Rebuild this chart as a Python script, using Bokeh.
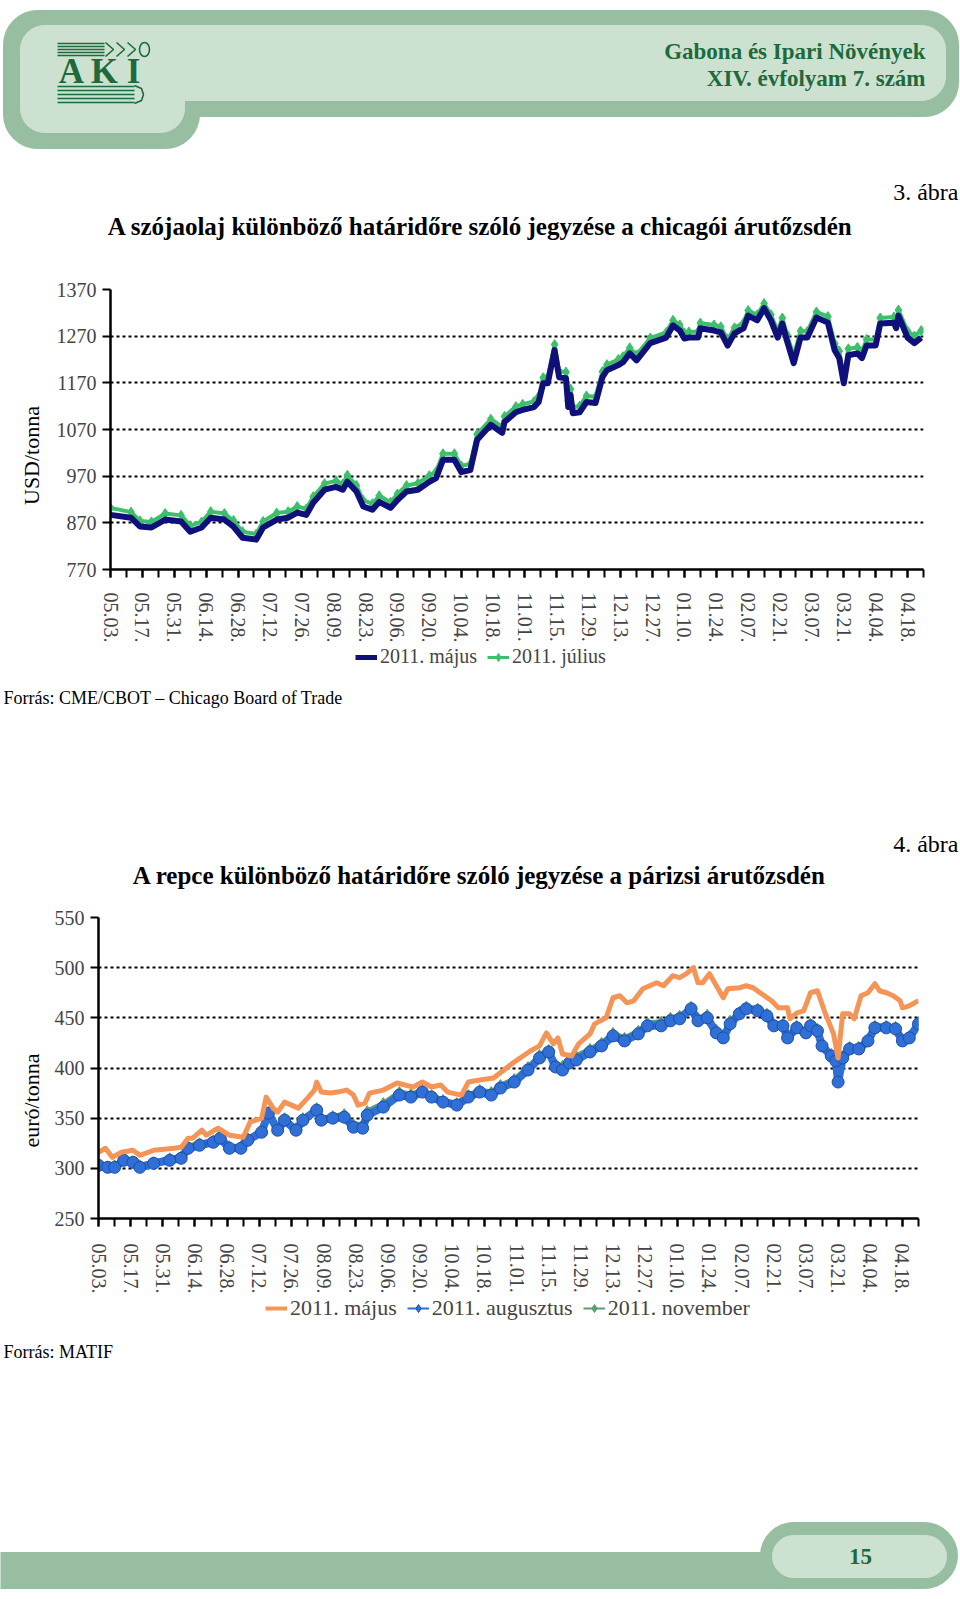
import math
from bokeh.plotting import figure
from bokeh.layouts import column, row
from bokeh.models import Range1d, FixedTicker, Legend, LegendItem, CustomJSTickFormatter
from bokeh.core.properties import value
from bokeh.embed import file_html
from bokeh.resources import INLINE

SERIF = "Liberation Serif"
W = 960
LW = 45  # width of the y-axis title strip

# ---------------- data ----------------
tick_labels = ["05.03.", "05.17.", "05.31.", "06.14.", "06.28.", "07.12.", "07.26.", "08.09.",
               "08.23.", "09.06.", "09.20.", "10.04.", "10.18.", "11.01.", "11.15.", "11.29.",
               "12.13.", "12.27.", "01.10.", "01.24.", "02.07.", "02.21.", "03.07.", "03.21.",
               "04.04.", "04.18."]

# chart 1 (days since 2010-05-03), USD/tonna
days1 = [0, 9, 13, 18, 24, 31, 35, 40, 44, 50,
         54, 58, 64, 67, 73, 78, 82, 86, 89, 94,
         99, 102, 104, 108, 111, 115, 118, 123, 126, 130,
         135, 140, 143, 146, 151, 154, 158, 161,
         167, 172, 173, 178, 181, 186, 188, 190, 192, 195,
         197, 200, 201, 202, 203, 206, 209, 213, 216, 218,
         223, 225, 228, 231, 237, 244, 247, 250, 252, 254,
         258, 259, 265, 268, 271, 274, 278, 280, 284, 287,
         290, 293, 295, 297, 300, 303, 306, 310, 315, 318,
         320, 322, 324, 328, 330, 332, 336, 338, 344, 345,
         346, 350, 353, 356]
majus1 = [887, 881, 862, 860, 877, 873, 851, 860, 881, 877,
          862, 838, 834, 860, 877, 881, 892, 887, 913, 941,
          947, 941, 958, 937, 905, 898, 915, 902, 919, 937,
          941, 958, 966, 1005, 1005, 979, 983, 1048,
          1080, 1063, 1086, 1107, 1112, 1118, 1129, 1169, 1169, 1240,
          1182, 1180, 1118, 1144, 1105, 1107, 1129, 1127, 1182, 1197,
          1208, 1214, 1233, 1218, 1255, 1267, 1293, 1282, 1265, 1267,
          1267, 1287, 1282, 1278, 1250, 1276, 1287, 1314, 1304, 1330,
          1304, 1267, 1297, 1261, 1212, 1267, 1267, 1310, 1299, 1240,
          1223, 1169, 1229, 1233, 1223, 1250, 1250, 1297, 1299, 1287,
          1314, 1267, 1255, 1267]
julius1 = [902, 893, 874, 872, 890, 886, 864, 872, 894, 890,
           875, 851, 846, 873, 891, 894, 905, 900, 926, 954,
           960, 953, 972, 950, 918, 911, 928, 914, 932, 950,
           955, 971, 980, 1018, 1018, 992, 996, 1060,
           1092, 1076, 1098, 1119, 1124, 1130, 1141, 1181, 1182, 1252,
           1195, 1193, 1131, 1157, 1118, 1120, 1142, 1140, 1194, 1209,
           1220, 1226, 1245, 1230, 1266, 1278, 1304, 1294, 1277, 1279,
           1280, 1298, 1294, 1290, 1263, 1288, 1299, 1325, 1316, 1340,
           1316, 1280, 1309, 1274, 1228, 1281, 1280, 1322, 1312, 1254,
           1238, 1182, 1243, 1246, 1237, 1263, 1263, 1309, 1311, 1300,
           1326, 1281, 1270, 1282]

# chart 2, euró/tonna
days2_maj = [0, 3, 6, 10, 15, 18, 24, 33, 36, 39,
             41, 45, 47, 52, 57, 63, 66, 71, 73, 76,
             78, 81, 87, 91, 94, 95, 97, 101, 104, 108,
             111, 113, 116, 118, 124, 130, 137, 141, 145, 149,
             152, 158, 161, 166, 172, 181, 188, 192, 195, 198,
             200, 202, 206, 209, 214, 216, 221, 224, 227, 230,
             233, 237, 243, 246, 250, 253, 256, 259, 261, 263,
             266, 269, 272, 274, 279, 282, 285, 288, 293, 296,
             300, 301, 304, 307, 310, 313, 316, 320, 322, 324,
             327, 329, 332, 335, 338, 340, 343, 346, 349, 350,
             353, 357]
majus2 = [316, 320, 311, 316, 318, 313, 318, 320, 321, 330,
          330, 338, 333, 340, 333, 331, 346, 350, 371, 360,
          356, 366, 360, 370, 378, 386, 376, 375, 376, 378,
          373, 363, 365, 375, 378, 385, 381, 386, 381, 383,
          376, 373, 386, 388, 390, 406, 417, 422, 435, 424,
          430, 414, 412, 424, 434, 444, 450, 470, 472, 465,
          467, 479, 485, 482, 492, 490, 494, 500, 485, 485,
          494, 482, 470, 479, 480, 482, 480, 475, 467, 460,
          460, 449, 455, 457, 475, 477, 457, 434, 410, 454,
          454, 449, 472, 475, 484, 477, 475, 472, 467, 460,
          462, 467]
days2 = [0, 4, 7, 11, 15, 18, 24, 31, 36, 39,
         44, 50, 53, 57, 62, 65, 71, 74, 78, 81,
         86, 89, 95, 97, 102, 107, 111, 115, 117, 124,
         131, 136, 141, 145, 150, 156, 161, 166, 171, 175,
         181, 187, 192, 196, 199, 202, 205, 208, 214, 219,
         224, 229, 235, 239, 245, 249, 253, 258, 261, 265,
         269, 272, 275, 279, 282, 287, 291, 294, 298, 300,
         304, 308, 310, 313, 315, 319, 321, 322, 324, 327,
         331, 335, 338, 343, 347, 350, 353, 357]
augusztus2 = [303, 301, 301, 308, 306, 301, 305, 308, 310, 320,
              323, 326, 330, 320, 320, 328, 336, 355, 338, 348,
              338, 348, 358, 348, 350, 351, 341, 340, 353, 361,
              373, 371, 376, 371, 366, 363, 371, 376, 373, 380,
              386, 398, 410, 416, 401, 398, 405, 408, 416, 422,
              432, 427, 434, 442, 442, 447, 449, 459, 447, 450,
              435, 430, 444, 454, 459, 457, 452, 442, 442, 430,
              440, 435, 442, 437, 422, 412, 407, 386, 410, 419,
              419, 427, 440, 440, 439, 427, 430, 444]
november2 = [305, 303, 304, 310, 308, 304, 307, 311, 313, 323,
             326, 329, 333, 323, 323, 331, 339, 357, 342, 351,
             341, 351, 361, 351, 353, 355, 345, 345, 358, 366,
             377, 375, 379, 374, 369, 366, 374, 379, 377, 384,
             390, 402, 414, 419, 405, 403, 410, 413, 420, 426,
             436, 431, 438, 446, 447, 451, 453, 462, 451, 454,
             439, 434, 448, 457, 462, 460, 455, 445, 445, 433,
             443, 438, 445, 440, 425, 415, 410, 389, 413, 422,
             422, 430, 443, 443, 442, 430, 433, 447]

# ---------------- colours ----------------
OUTER = "#97BEA0"
INNER = "#CDE1D1"
DKGREEN = "#1D6A3C"
NAVY = "#10107A"
GREEN = "#3CC06A"
ORANGE = "#F59457"
BLUE = "#2F6FD6"
DKBLUE = "#1C4FA8"
NOVGREEN = "#5A9E72"
NAN = [float("nan")]


def deco(top, bottom, x0=0, x1=W):
    p = figure(width=x1 - x0, height=bottom - top, x_range=Range1d(x0, x1), y_range=Range1d(bottom, top),
               output_backend="svg", toolbar_location=None, min_border=0, frame_align=False,
               x_axis_location=None, y_axis_location=None)
    p.grid.visible = False
    p.outline_line_color = None
    return p


def txt(p, x, y, s, size, bold=False, align="left", color="black", angle=0.0):
    p.text(x=[x], y=[y], text=[s], text_font=value(SERIF), text_font_size=f"{size}px",
           text_font_style="bold" if bold else "normal", text_align=align,
           text_baseline="middle", text_color=color, angle=angle)


def legend(items, fig_h, left, center_y, fig_top, size):
    return Legend(items=items, location=(left, fig_h - (center_y - fig_top) - 11),
                  orientation="horizontal", label_text_font=SERIF, label_text_font_size=f"{size}px",
                  border_line_color=None, background_fill_alpha=0, padding=0, margin=0,
                  spacing=10, glyph_width=22, glyph_height=20, label_standoff=3, label_height=20)


def chart(top, height, left, right, ftop, fh, y0, y1, ystep, xstandoff):
    p = figure(width=W - LW, height=height, x_range=Range1d(0, 357), y_range=Range1d(y0, y1),
               output_backend="svg", toolbar_location=None, frame_align=False,
               min_border_left=left - LW, min_border_right=W - right,
               min_border_top=ftop - top, min_border_bottom=height - (ftop - top) - fh)
    p.outline_line_color = None
    p.xgrid.visible = False
    p.ygrid.grid_line_color = "black"
    p.ygrid.grid_line_dash = "3 3"
    p.ygrid.grid_line_width = 2
    p.yaxis.ticker = FixedTicker(ticks=list(range(y0, y1 + 1, ystep)))
    p.yaxis.axis_line_width = 2.5
    p.yaxis.major_tick_out = 8
    p.yaxis.major_tick_in = 0
    p.yaxis.minor_tick_out = 0
    p.yaxis.major_tick_line_width = 2
    p.yaxis.major_label_text_font = SERIF
    p.yaxis.major_label_text_font_size = "20px"
    p.yaxis.major_label_standoff = 6
    p.xaxis.ticker = FixedTicker(ticks=list(range(0, 351, 14)), minor_ticks=list(range(0, 358, 7)))
    p.xaxis.formatter = CustomJSTickFormatter(args=dict(labels=tick_labels),
                                              code="const i = Math.round(tick/14); return labels[i] || '';")
    p.xaxis.axis_line_width = 2.5
    p.xaxis.major_tick_out = 8
    p.xaxis.major_tick_in = 0
    p.xaxis.minor_tick_out = 8
    p.xaxis.minor_tick_in = 0
    p.xaxis.major_tick_line_width = 2
    p.xaxis.minor_tick_line_width = 2
    p.xaxis.minor_tick_line_color = "black"
    p.xaxis.major_label_orientation = "vertical"
    p.xaxis.major_label_text_font = SERIF
    p.xaxis.major_label_text_font_size = "20px"
    p.xaxis.major_label_standoff = xstandoff
    return p


# ---------------- header ----------------
f0 = deco(0, 258)
f0.quad(left=[3], right=[958], top=[10], bottom=[116], color=OUTER, border_radius=34)
f0.quad(left=[3], right=[199], top=[40], bottom=[148], color=OUTER, border_radius=34)
f0.quad(left=[20], right=[945], top=[25], bottom=[100], color=INNER, border_radius=24)
f0.quad(left=[20], right=[184], top=[40], bottom=[132], color=INNER, border_radius=24)
# logo
f0.multi_line(xs=[[57, 104]] * 5, ys=[[y, y] for y in (43, 46, 49, 52, 55)], line_color=DKGREEN, line_width=1.5)
for cx in (113, 124, 135):
    f0.line(x=[cx - 8, cx, cx - 8], y=[42, 49, 56], line_color=DKGREEN, line_width=1.6)
f0.ellipse(x=[144], y=[49], width=10, height=14, fill_color=None, line_color=DKGREEN, line_width=1.6)
txt(f0, 100, 71, "A K I", 35, bold=True, align="center", color=DKGREEN)
f0.multi_line(xs=[[57, 134]] * 5, ys=[[y, y] for y in (86, 90, 94, 98, 102)], line_color=DKGREEN, line_width=1.6)
f0.line(x=[134, 141, 143, 141, 134], y=[85, 88, 94, 100, 103], line_color=DKGREEN, line_width=1.6)
txt(f0, 925, 51, "Gabona és Ipari Növények", 23, bold=True, align="right", color=DKGREEN)
txt(f0, 925, 78, "XIV. évfolyam 7. szám", 23, bold=True, align="right", color=DKGREEN)
txt(f0, 958, 191, "3. ábra", 24, align="right")
txt(f0, 480, 226, "A szójaolaj különböző határidőre szóló jegyzése a chicagói árutőzsdén", 25, bold=True, align="center")

# ---------------- chart 1 ----------------
y1lab = deco(258, 645, 0, LW)
txt(y1lab, 31, 455, "USD/tonna", 22, align="center", angle=math.pi / 2)
f1 = chart(258, 387, 110, 923, 289, 281, 770, 1370, 100, 15)
f1.line(days1, julius1, line_color=GREEN, line_width=4)
f1.scatter(days1, julius1, marker="diamond", size=10, color=GREEN)
f1.line(days1, majus1, line_color=NAVY, line_width=6, line_join="round")

# ---------------- middle (legend 1, source, figure 4 title) ----------------
f2 = deco(645, 895)
lg_n = f2.line(NAN, NAN, line_color=NAVY, line_width=5)
lg_gl = f2.line(NAN, NAN, line_color=GREEN, line_width=3)
lg_gm = f2.scatter(NAN, NAN, marker="diamond", size=11, color=GREEN)
f2.add_layout(legend([LegendItem(label="2011. május", renderers=[lg_n]),
                      LegendItem(label="2011. július", renderers=[lg_gl, lg_gm])],
                     250, 355, 657, 645, 20))
txt(f2, 3, 697, "Forrás: CME/CBOT – Chicago Board of Trade", 18)
txt(f2, 958, 843, "4. ábra", 24, align="right")
txt(f2, 479, 875, "A repce különböző határidőre szóló jegyzése a párizsi árutőzsdén", 25, bold=True, align="center")

# ---------------- chart 2 ----------------
y2lab = deco(895, 1296, 0, LW)
txt(y2lab, 31, 1100, "euró/tonna", 22, align="center", angle=math.pi / 2)
f3 = chart(895, 401, 98, 918, 917, 301, 250, 550, 50, 17)
f3.line(days2, november2, line_color=NOVGREEN, line_width=3)
f3.scatter(days2, november2, marker="diamond", size=9, color=NOVGREEN)
f3.line(days2, augusztus2, line_color=BLUE, line_width=8)
f3.scatter(days2, augusztus2, marker="circle", size=12, fill_color=BLUE, line_color=DKBLUE, line_width=1)
f3.line(days2_maj, majus2, line_color=ORANGE, line_width=5, line_join="round")

# ---------------- bottom (legend 2, source, footer) ----------------
f4 = deco(1296, 1599)
lg_m = f4.line(NAN, NAN, line_color=ORANGE, line_width=4)
lg_al = f4.line(NAN, NAN, line_color=BLUE, line_width=2)
lg_am = f4.scatter(NAN, NAN, marker="diamond", size=13, fill_color=BLUE, line_color=DKBLUE)
lg_vl = f4.line(NAN, NAN, line_color=NOVGREEN, line_width=2)
lg_vm = f4.scatter(NAN, NAN, marker="diamond", size=11, color=NOVGREEN)
f4.add_layout(legend([LegendItem(label="2011. május", renderers=[lg_m]),
                      LegendItem(label="2011. augusztus", renderers=[lg_al, lg_am]),
                      LegendItem(label="2011. november", renderers=[lg_vl, lg_vm])],
                     303, 265, 1310, 1296, 22))
txt(f4, 3, 1351, "Forrás: MATIF", 18)
f4.quad(left=[-10], right=[820], top=[1552], bottom=[1588], color=OUTER)
f4.quad(left=[760], right=[957], top=[1522], bottom=[1588], color=OUTER, border_radius=33)
f4.quad(left=[772], right=[946], top=[1535], bottom=[1577], color=INNER, border_radius=21)
txt(f4, 860, 1556, "15", 23, bold=True, align="center", color=DKGREEN)

page = column(f0, row(y1lab, f1, spacing=0), f2, row(y2lab, f3, spacing=0), f4, spacing=0)
open("out.html", "w").write(file_html(page, INLINE))
